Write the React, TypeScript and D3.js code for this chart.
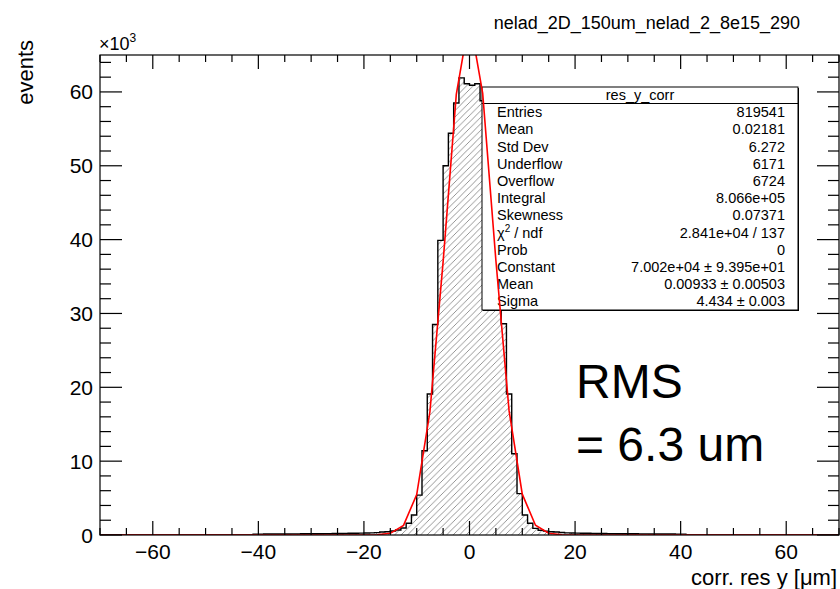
import React from 'react';
import * as d3 from 'd3';

// ---------------- data ----------------
// histogram: 1 µm bins, counts in thousands of events, first listed bin starts at -41 µm
const firstBinLow = -41;
const binWidth = 1;
const counts = [
  0.12, 0.12, 0.13, 0.13, 0.13, 0.14, 0.14, 0.15, 0.15, 0.16, 0.16, 0.17, 0.17, 0.18, 0.19, 0.2,
  0.21, 0.22, 0.23, 0.24, 0.25, 0.27, 0.29, 0.32,
  0.4, 0.45, 0.54, 0.68, 0.95, 1.6, 2.7, 5.4, 11.4, 19.1, 28.5, 39.9, 50.0, 54.4, 58.5, 61.9, 61.1,
  60.9, 61.1, 58.8, 54.8, 50.2, 40.2, 28.6, 19.1, 11.0, 5.6, 2.7, 1.6, 0.9, 0.65, 0.52, 0.45, 0.4,
  0.33, 0.29, 0.27, 0.25, 0.24, 0.23, 0.22, 0.21,
  0.2, 0.19, 0.18, 0.17, 0.17, 0.16, 0.16, 0.15, 0.15, 0.14, 0.14, 0.13, 0.13, 0.13, 0.12, 0.12,
];
const xDomain = [-70, 70];
const yDomain = [0, 65.0];
const xMajorTicks = [-60, -40, -20, 0, 20, 40, 60];
const yMajorTicks = [0, 10, 20, 30, 40, 50, 60];
// gaus fit parameters (from the stats box)
const fitConstant = 70020;
const fitMean = 0.00933;
const fitSigma = 4.434;
const fitStep = 2.5;

const statsTitle = 'res_y_corr';
const statsLabels = ['Entries', 'Mean', 'Std Dev', 'Underflow', 'Overflow', 'Integral', 'Skewness', 'CHI2', 'Prob', 'Constant', 'Mean', 'Sigma'];
const statsValues = ['819541', '0.02181', '6.272', '6171', '6724', '8.066e+05', '0.07371', '2.841e+04 / 137', '0', '7.002e+04 \u00b1 9.395e+01', '0.00933 \u00b1 0.00503', '4.434 \u00b1 0.003'];

const chartTitle = 'nelad_2D_150um_nelad_2_8e15_290';
const xTitle = 'corr. res y [\u03bcm]';
const yTitle = 'events';
const noteLines = ['RMS', '= 6.3 um'];

// ---------------- layout ----------------
const W = 840;
const H = 589;
const L = 100, R = 839, T = 55, B = 535;
const FONT = '"Liberation Sans", Arial, Helvetica, sans-serif';

export default function App() {
  const x = d3.scaleLinear().domain(xDomain).range([L, R]);
  const y = d3.scaleLinear().domain(yDomain).range([B, T]);

  // full bin list over the axis range
  const nBins = Math.round((xDomain[1] - xDomain[0]) / binWidth);
  const bins: { lo: number; hi: number; v: number }[] = [];
  for (let i = 0; i < nBins; i++) {
    const lo = xDomain[0] + i * binWidth;
    const idx = Math.round((lo - firstBinLow) / binWidth);
    const v = idx >= 0 && idx < counts.length ? counts[idx] : 0;
    bins.push({ lo, hi: lo + binWidth, v });
  }
  const pts: [number, number][] = [[x(xDomain[0]), y(0)]];
  bins.forEach((b) => {
    pts.push([x(b.lo), y(b.v)]);
    pts.push([x(b.hi), y(b.v)]);
  });
  pts.push([x(xDomain[1]), y(0)]);
  const line = d3.line();
  const histPath = line(pts) || '';
  const histArea = histPath + 'Z';

  const fitPts: [number, number][] = [];
  const nFit = Math.round((xDomain[1] - xDomain[0]) / fitStep);
  for (let i = 0; i <= nFit; i++) {
    const xv = xDomain[0] + i * fitStep;
    const g = (fitConstant * Math.exp(-0.5 * ((xv - fitMean) / fitSigma) ** 2)) / 1000;
    fitPts.push([x(xv), y(g)]);
  }
  const fitPath = line(fitPts) || '';

  const xMinor = d3.range(xDomain[0], xDomain[1] + 0.001, 5).filter((v) => !xMajorTicks.includes(v));
  const yMinor = d3.range(0, yDomain[1], 2).filter((v) => v % 10 !== 0);

  const xMajLen = 14, xMinLen = 7, yMajLen = 22, yMinLen = 11;

  // stats box geometry
  const bx0 = 482, bx1 = 798, by0 = 87, byHead = 103.5, by1 = 310;
  const rowH = (by1 - byHead) / statsLabels.length;

  return (
    <div style={{ position: 'absolute', left: 0, top: 0 }}>
      <svg width={W} height={H} viewBox={`0 0 ${W} ${H}`} style={{ display: 'block', background: '#fff' }} fontFamily={FONT}>
        <defs>
          <pattern id="hatch" patternUnits="userSpaceOnUse" width="6.5" height="6.5">
            <path d="M-1,7.5 L7.5,-1 M-1,1 L1,-1 M5.5,7.5 L7.5,5.5" stroke="#8a8a8a" strokeWidth="0.9" />
          </pattern>
          <clipPath id="frame">
            <rect x={L} y={T} width={R - L} height={B - T} />
          </clipPath>
        </defs>

        <rect x={0} y={0} width={W} height={H} fill="#fff" />

        {/* title */}
        <text x={800} y={29} fontSize={18} textAnchor="end" fill="#000">{chartTitle}</text>

        {/* histogram */}
        <g clipPath="url(#frame)">
          <path d={histArea} fill="url(#hatch)" stroke="none" />
          <path d={histPath} fill="none" stroke="#000" strokeWidth={1.4} />
        </g>

        {/* stats box */}
        <rect x={bx0 + 1} y={by0 + 1} width={bx1 - bx0} height={by1 - by0} fill="#000" />
        <rect x={bx0} y={by0} width={bx1 - bx0} height={by1 - by0} fill="#fff" stroke="#000" strokeWidth={1} />
        <line x1={bx0} x2={bx1} y1={byHead} y2={byHead} stroke="#000" strokeWidth={1} />
        <text x={(bx0 + bx1) / 2} y={(by0 + byHead) / 2 + 5} fontSize={14.5} textAnchor="middle">{statsTitle}</text>
        {statsLabels.map((lab, i) => {
          const yy = byHead + rowH * (i + 0.5) + 5;
          return (
            <g key={i}>
              {lab === 'CHI2' ? (
                <text x={497} y={yy} fontSize={14.5}>
                  {'\u03c7'}
                  <tspan fontSize={10} dy={-6}>2</tspan>
                  <tspan dy={6}>{' / ndf'}</tspan>
                </text>
              ) : (
                <text x={497} y={yy} fontSize={14.5}>{lab}</text>
              )}
              <text x={785} y={yy} fontSize={14.5} textAnchor="end">{statsValues[i]}</text>
            </g>
          );
        })}

        {/* fit curve */}
        <g clipPath="url(#frame)">
          <path d={fitPath} fill="none" stroke="#ff0000" strokeWidth={1.6} />
        </g>

        {/* note */}
        <text x={576} y={398} fontSize={48}>{noteLines[0]}</text>
        <text x={576} y={461} fontSize={48}>{noteLines[1]}</text>

        {/* frame */}
        <rect x={L} y={T} width={R - L} height={B - T} fill="none" stroke="#000" strokeWidth={1.2} />

        {/* x ticks */}
        {xMajorTicks.map((v) => (
          <g key={'xM' + v}>
            <line x1={x(v)} x2={x(v)} y1={B} y2={B - xMajLen} stroke="#000" strokeWidth={1.2} />
            <line x1={x(v)} x2={x(v)} y1={T} y2={T + xMajLen} stroke="#000" strokeWidth={1.2} />
            <text x={x(v)} y={559} fontSize={21} textAnchor="middle">{v < 0 ? '\u2212' + Math.abs(v) : String(v)}</text>
          </g>
        ))}
        {xMinor.map((v) => (
          <g key={'xm' + v}>
            <line x1={x(v)} x2={x(v)} y1={B} y2={B - xMinLen} stroke="#000" strokeWidth={1.2} />
            <line x1={x(v)} x2={x(v)} y1={T} y2={T + xMinLen} stroke="#000" strokeWidth={1.2} />
          </g>
        ))}

        {/* y ticks */}
        {yMajorTicks.map((v) => (
          <g key={'yM' + v}>
            <line x1={L} x2={L + yMajLen} y1={y(v)} y2={y(v)} stroke="#000" strokeWidth={1.2} />
            <line x1={R} x2={R - yMajLen} y1={y(v)} y2={y(v)} stroke="#000" strokeWidth={1.2} />
            <text x={93} y={y(v) + 7.5} fontSize={21} textAnchor="end">{String(v)}</text>
          </g>
        ))}
        {yMinor.map((v) => (
          <g key={'ym' + v}>
            <line x1={L} x2={L + yMinLen} y1={y(v)} y2={y(v)} stroke="#000" strokeWidth={1.2} />
            <line x1={R} x2={R - yMinLen} y1={y(v)} y2={y(v)} stroke="#000" strokeWidth={1.2} />
          </g>
        ))}

        {/* exponent */}
        <text x={99} y={50} fontSize={18}>
          {'\u00d710'}
          <tspan fontSize={12} dy={-8}>3</tspan>
        </text>

        {/* axis titles */}
        <text x={837} y={585} fontSize={22} textAnchor="end">{xTitle}</text>
        <text transform={`translate(33,40) rotate(-90)`} fontSize={22} textAnchor="end">{yTitle}</text>
      </svg>
    </div>
  );
}
